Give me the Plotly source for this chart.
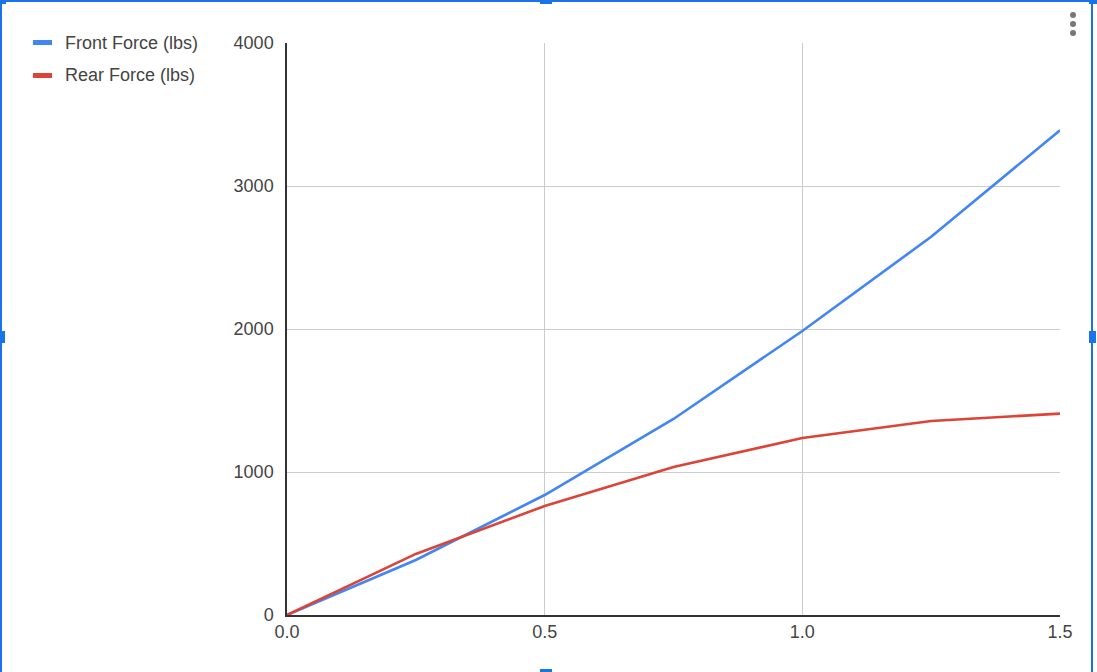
import plotly.graph_objects as go

x_vals = [0.0, 0.25, 0.5, 0.75, 1.0, 1.25, 1.5]
front_force = [0, 385, 839, 1371, 1986, 2645, 3390]
rear_force = [0, 427, 762, 1035, 1238, 1357, 1408]
series_names = ["Front Force (lbs)", "Rear Force (lbs)"]
series_colors = ["#4285F4", "#DB4437"]
x_ticks = [0.0, 0.5, 1.0, 1.5]
y_ticks = [0, 1000, 2000, 3000, 4000]

W, H = 1097, 672
L, R, T, B = 287, 37, 43, 57
pw, ph = W - L - R, H - T - B

def px(x):
    return (x - L) / pw

def py(y):
    return (H - B - y) / ph

FONT = "Arial, Liberation Sans, sans-serif"
TXT = "#444444"

fig = go.Figure()
for name, ys, col in zip(series_names, [front_force, rear_force], series_colors):
    fig.add_trace(go.Scatter(x=x_vals, y=ys, mode="lines", name=name,
                             line=dict(color=col, width=2.6), showlegend=False))

shapes = []
annotations = []
# manual legend
for i, (name, col) in enumerate(zip(series_names, series_colors)):
    cy = 42.5 + 33 * i
    shapes.append(dict(type="rect", xref="paper", yref="paper",
                       x0=px(33), x1=px(52), y0=py(cy + 2.5), y1=py(cy - 2.5),
                       line=dict(width=0), fillcolor=col, layer="above"))
    annotations.append(dict(xref="paper", yref="paper", x=px(63), y=py(cy),
                            xanchor="left", yanchor="middle", showarrow=False,
                            text=name, font=dict(family=FONT, size=18, color=TXT)))

blue = "#1a73e8"
# selection frame (bottom edge lies outside the view)
shapes.append(dict(type="rect", xref="paper", yref="paper",
                   x0=px(1), x1=px(1092), y0=py(680), y1=py(1),
                   line=dict(color=blue, width=2), fillcolor="rgba(0,0,0,0)", layer="above"))
for x0, x1, y0, y1 in [(540, 552, 0, 4), (0, 5, 331, 343), (1089, 1096, 331, 343),
                       (540, 552, 669, 672), (0, 6, 0, 4), (1089, 1097, 0, 4)]:
    shapes.append(dict(type="rect", xref="paper", yref="paper",
                       x0=px(x0), x1=px(x1), y0=py(y1), y1=py(y0),
                       line=dict(width=0), fillcolor=blue, layer="above"))
# menu dots
for dy in [15, 24, 33]:
    shapes.append(dict(type="circle", xref="paper", yref="paper",
                       x0=px(1070), x1=px(1076), y0=py(dy + 3), y1=py(dy - 3),
                       line=dict(width=0), fillcolor="#777777", layer="above"))

fig.update_layout(
    width=W, height=H,
    margin=dict(l=L, r=R, t=T, b=B),
    paper_bgcolor="white", plot_bgcolor="white",
    font=dict(family=FONT, size=18, color=TXT),
    showlegend=False,
    xaxis=dict(range=[0, 1.5], tickvals=x_ticks, tickformat=".1f",
               showgrid=True, gridcolor="#cccccc", gridwidth=1,
               showline=True, linecolor="#333333", linewidth=1.5,
               zeroline=False, ticks="", fixedrange=True,
               tickfont=dict(family=FONT, size=18, color=TXT)),
    yaxis=dict(range=[0, 4000], tickvals=y_ticks,
               showgrid=True, gridcolor="#cccccc", gridwidth=1,
               showline=True, linecolor="#333333", linewidth=1.5,
               zeroline=False, ticks="", ticklabelstandoff=8,
               tickfont=dict(family=FONT, size=18, color=TXT)),
    shapes=shapes,
    annotations=annotations,
)

fig.write_html("out.html", config={"displayModeBar": False},
               post_script="document.body.style.margin='0';document.body.style.overflow='hidden';")
